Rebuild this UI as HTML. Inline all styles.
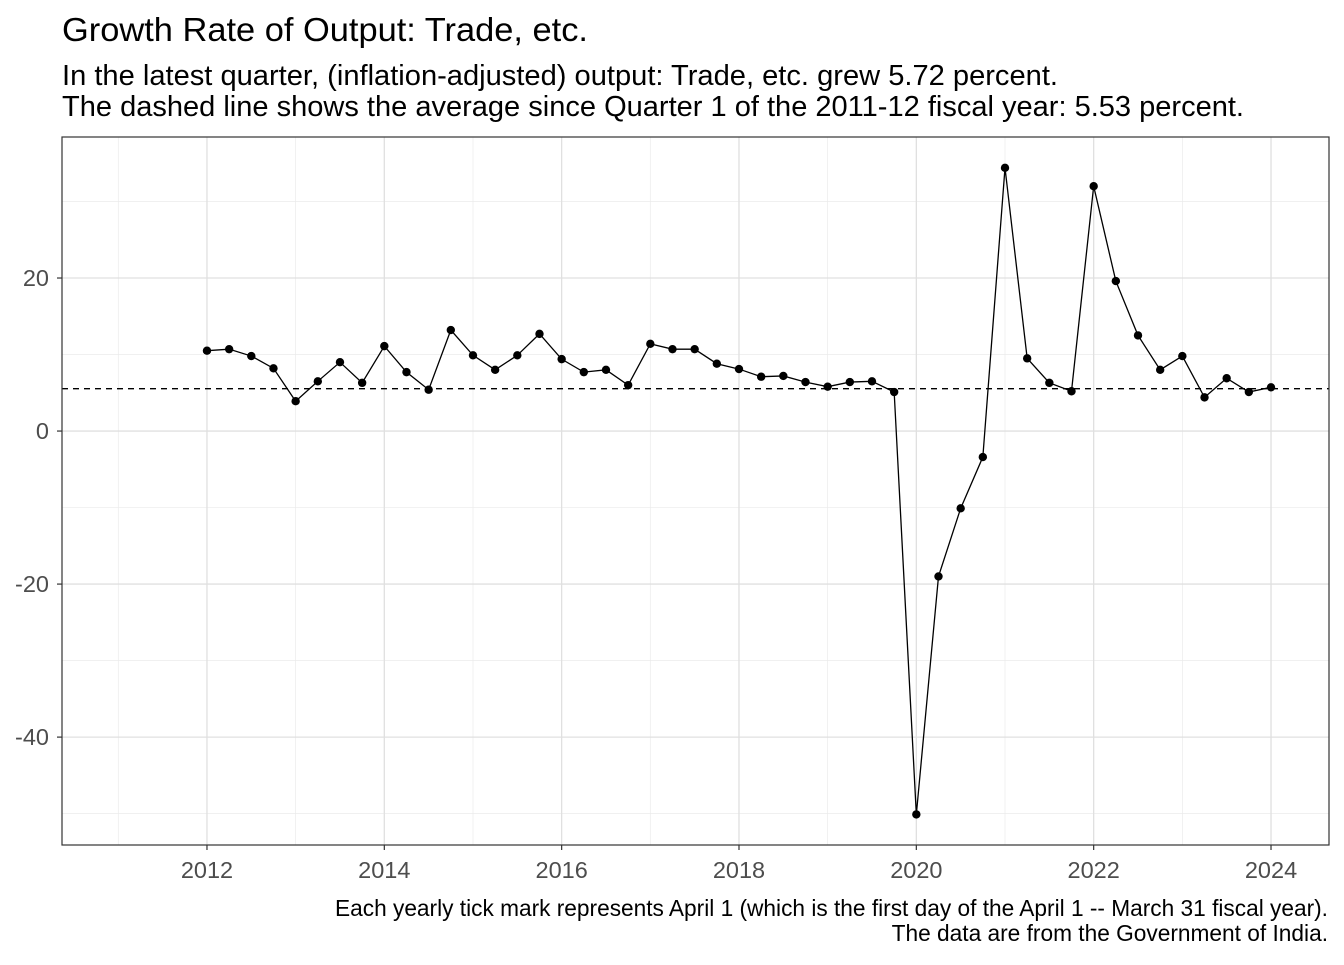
<!DOCTYPE html>
<html><head><meta charset="utf-8">
<style>
body{margin:0;background:#fff;font-family:"Liberation Sans",Arial,sans-serif;}
svg text{font-family:"Liberation Sans",Arial,sans-serif;}
</style></head>
<body>
<svg id="chart" width="1344" height="960" xmlns="http://www.w3.org/2000/svg">
<rect width="1344" height="960" fill="#fff"/>
<text x="62" y="41" font-size="33.5" fill="#000" textLength="526" lengthAdjust="spacingAndGlyphs">Growth Rate of Output: Trade, etc.</text>
<text x="62" y="85" font-size="28.5" fill="#000" textLength="996" lengthAdjust="spacingAndGlyphs">In the latest quarter, (inflation-adjusted) output: Trade, etc. grew 5.72 percent.</text>
<text x="62" y="116" font-size="28.5" fill="#000" textLength="1182" lengthAdjust="spacingAndGlyphs">The dashed line shows the average since Quarter 1 of the 2011-12 fiscal year: 5.53 percent.</text>
<g id="grid"></g>
<g id="marks"></g>
<rect x="62" y="137" width="1267" height="708" fill="none" stroke="#333" stroke-width="1.2"/>
<g id="axes"></g>
<text x="1328" y="916" font-size="22.7" text-anchor="end" fill="#000" textLength="993" lengthAdjust="spacingAndGlyphs">Each yearly tick mark represents April 1 (which is the first day of the April 1 -- March 31 fiscal year).</text>
<text x="1328" y="941" font-size="22.7" text-anchor="end" fill="#000">The data are from the Government of India.</text>
</svg>
<script>
const startYear = 2012;
const growthValues = [10.5,10.7,9.8,8.2,3.9,6.5,9.0,6.3,11.1,7.7,5.4,13.2,9.9,8.0,9.9,12.7,9.4,7.7,8.0,6.0,11.4,10.7,10.7,8.8,8.1,7.1,7.2,6.4,5.8,6.4,6.5,5.1,-50.1,-19.0,-10.1,-3.4,34.4,9.5,6.3,5.2,32.0,19.6,12.5,8.0,9.8,4.4,6.9,5.1,5.72];
const averageValue = 5.53;
const yTicks = [-40,-20,0,20];
const yMinor = [-50,-30,-10,10,30];
const xTicks = [2012,2014,2016,2018,2020,2022,2024];
const xMinor = [2011,2013,2015,2017,2019,2021,2023];

const NS="http://www.w3.org/2000/svg";
const L=62,R=1329,T=137,B=845;
const X0=2010.365,X1=2024.654,Y0=-54.1,Y1=38.43;
const xs=v=>L+(v-X0)/(X1-X0)*(R-L);
const ys=v=>B-(v-Y0)/(Y1-Y0)*(B-T);
function mk(tag,attrs,parent){const e=document.createElementNS(NS,tag);for(const k in attrs)e.setAttribute(k,attrs[k]);parent.appendChild(e);return e;}
const grid=document.getElementById('grid'),marks=document.getElementById('marks'),axes=document.getElementById('axes');
yMinor.forEach(v=>{const e=mk('line',{x1:L,x2:R,y1:ys(v),y2:ys(v),stroke:'#ebebeb','stroke-width':0.7},grid);

});
xMinor.forEach(v=>{const e=mk('line',{x1:xs(v),x2:xs(v),y1:T,y2:B,stroke:'#ebebeb','stroke-width':0.7},grid);

});
yTicks.forEach(v=>{const e=mk('line',{x1:L,x2:R,y1:ys(v),y2:ys(v),stroke:'#e0e0e0','stroke-width':1.3},grid);


const t=mk('line',{x1:L-5,x2:L,y1:ys(v),y2:ys(v),stroke:'#333','stroke-width':1.2},axes);


const l=mk('text',{x:L-13,y:ys(v)+8,'font-size':23.5,fill:'#4d4d4d','text-anchor':'end'},axes);l.textContent=v;

});
xTicks.forEach(v=>{const e=mk('line',{x1:xs(v),x2:xs(v),y1:T,y2:B,stroke:'#e0e0e0','stroke-width':1.3},grid);


const t=mk('line',{x1:xs(v),x2:xs(v),y1:B,y2:B+5,stroke:'#333','stroke-width':1.2},axes);


const l=mk('text',{x:xs(v),y:B+33,'font-size':23.5,fill:'#4d4d4d','text-anchor':'middle'},axes);l.textContent=v;

});
const avg=mk('line',{x1:L,x2:R,y1:ys(averageValue),y2:ys(averageValue),stroke:'#000','stroke-width':1.4,'stroke-dasharray':'6,5'},marks);


const pts=growthValues.map((v,i)=>[xs(startYear+i*0.25),ys(v)]);
const line=mk('polyline',{points:pts.map(p=>p.join(',')).join(' '),fill:'none',stroke:'#000','stroke-width':1.3},marks);


pts.forEach(p=>{const c=mk('circle',{cx:p[0],cy:p[1],r:4.2,fill:'#000'},marks);

});
</script>
</body></html>
